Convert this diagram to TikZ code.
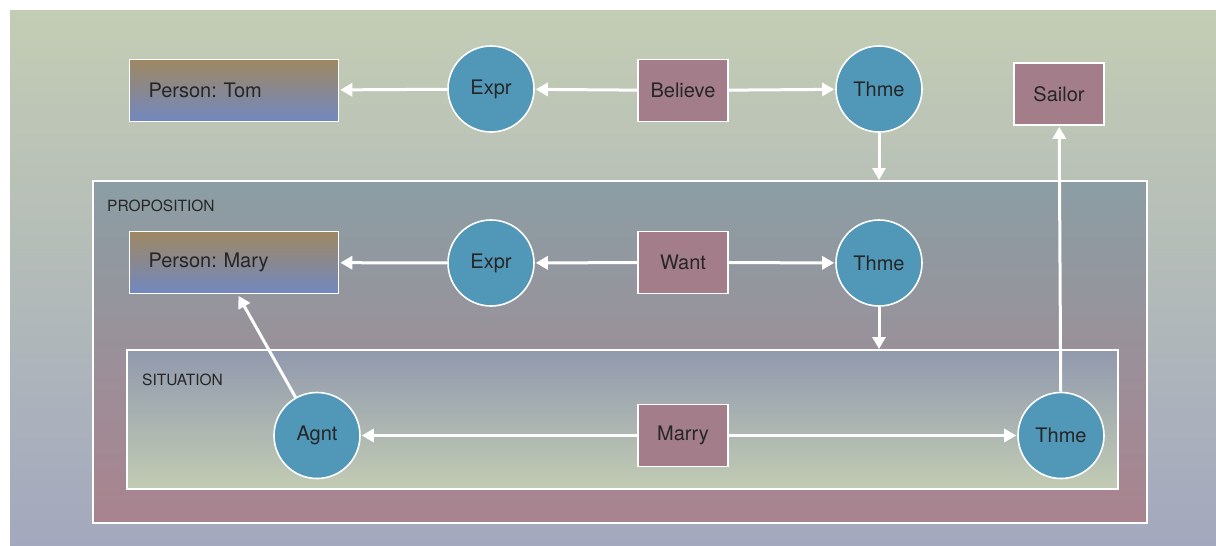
\documentclass[tikz,border=0pt]{standalone}
\usepackage{fontspec}
\setmainfont{TeX Gyre Heros}
\frenchspacing
\usetikzlibrary{arrows.meta}

\definecolor{bgtop}{HTML}{C3CDB4}
\definecolor{bgbot}{HTML}{A3A8BE}
\definecolor{proptop}{HTML}{8B9EA4}
\definecolor{propbot}{HTML}{A9838F}
\definecolor{sittop}{HTML}{9199AE}
\definecolor{sitbot}{HTML}{C2CCB3}
\definecolor{pertop}{HTML}{9E8862}
\definecolor{perbot}{HTML}{7288C0}
\definecolor{relfill}{HTML}{5097B8}
\definecolor{conceptfill}{HTML}{A47D8A}
\definecolor{ink}{HTML}{262626}

\tikzset{
  every node/.style={font=\fontsize{20}{22}\selectfont, text=ink},
  relation/.style={circle, draw=white, line width=1.6pt, fill=relfill,
    minimum size=86pt, inner sep=0pt},
  concept/.style={rectangle, draw=white, line width=1.6pt, fill=conceptfill,
    minimum width=90pt, minimum height=62pt, inner sep=0pt},
  person/.style={rectangle, draw=white, line width=1.6pt,
    top color=pertop, bottom color=perbot, minimum height=62pt,
    text width=171pt, inner xsep=19pt, align=left},
  ctxbox/.style={draw=white, line width=1.6pt},
  ctxlabel/.style={font=\fontsize{15.5}{18}\selectfont, anchor=west, inner sep=0pt},
  arr/.style={draw=white, line width=3pt,
    -{Triangle[length=12pt,width=13pt]}, shorten >=1pt, shorten <=0pt},
}

\begin{document}
\begin{tikzpicture}[x=1pt, y=-1pt]
  \useasboundingbox (0,0) rectangle (1216,546);

  % backdrop
  \shade[top color=bgtop, bottom color=bgbot] (10,10) rectangle (1216,546);

  % nested contexts
  \shade[top color=proptop, bottom color=propbot] (93,181) rectangle (1147,523);
  \draw[ctxbox] (93,181) rectangle (1147,523);
  \node[ctxlabel] (proplabel) at (107,206) {PROPOSITION};

  \shade[top color=sittop, bottom color=sitbot] (127,350) rectangle (1118,489);
  \draw[ctxbox] (127,350) rectangle (1118,489);
  \node[ctxlabel] (sitlabel) at (142,380) {SITUATION};

  % arrow targets on the context borders
  \coordinate (proptop) at (879,181);
  \coordinate (sittop) at (879,350);
  \coordinate (marybase) at (238,295);

  % outer graph
  \node[person] (tom) at (234,90.5) {Person: Tom};
  \node[relation] (expr1) at (491,89) {Expr};
  \node[concept] (believe) at (683,90.5) {Believe};
  \node[relation] (thme1) at (879,89) {Thme};
  \node[concept] (sailor) at (1059,94) {Sailor};

  % proposition graph
  \node[person] (mary) at (234,262.5) {Person: Mary};
  \node[relation] (expr2) at (491,263) {Expr};
  \node[concept] (want) at (683,262.5) {Want};
  \node[relation] (thme2) at (879,263) {Thme};

  % situation graph
  \node[relation] (agnt) at (317,435.5) {Agnt};
  \node[concept] (marry) at (683,435.5) {Marry};
  \node[relation] (thme3) at (1061,435.5) {Thme};

  % connectors
  \draw[arr] (believe) -- (expr1);
  \draw[arr] (expr1) -- (tom);
  \draw[arr] (believe) -- (thme1);
  \draw[arr] (thme1) -- (proptop);

  \draw[arr] (want) -- (expr2);
  \draw[arr] (expr2) -- (mary);
  \draw[arr] (want) -- (thme2);
  \draw[arr] (thme2) -- (sittop);

  \draw[arr] (marry) -- (agnt);
  \draw[arr] (marry) -- (thme3);
  \draw[arr] (agnt) -- (marybase);
  \draw[arr] (thme3) -- (sailor);
\end{tikzpicture}
\end{document}
